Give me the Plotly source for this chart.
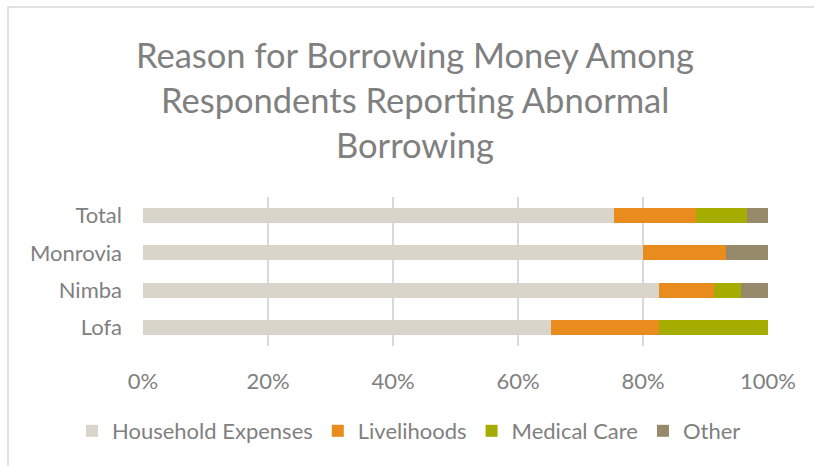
import plotly.graph_objects as go

categories = ["Lofa", "Nimba", "Monrovia", "Total"]
household = [65.2, 82.6, 80.0, 75.4]
livelihoods = [17.4, 8.7, 13.3, 13.0]
medical = [17.4, 4.3, 0.0, 8.2]
other = [0.0, 4.4, 6.7, 3.4]
x_ticks = [0, 20, 40, 60, 80, 100]
x_tick_labels = ["0%", "20%", "40%", "60%", "80%", "100%"]
title_lines = ["Reason for Borrowing Money Among", "Respondents Reporting Abnormal", "Borrowing"]

series = [
    ("Household Expenses", household, "#D9D5CA"),
    ("Livelihoods", livelihoods, "#E88C1E"),
    ("Medical Care", medical, "#A5AE00"),
    ("Other", other, "#968A6A"),
]

FONT = "Lato, 'Open Sans', sans-serif"
GRAY = "#808080"
FS = 22

fig = go.Figure()
for name, vals, col in series:
    fig.add_trace(go.Bar(
        y=categories, x=vals, name=name, orientation="h",
        marker=dict(color=col, line=dict(width=0)),
    ))

W, H = 814, 466
L, R, T, B = 143, 46, 197, 120
pw, ph = W - L - R, H - T - B

def px_x(p):
    return (p - L) / pw

def px_y(p):
    return (H - B - p) / ph

annotations = []
for i, (line, yc) in enumerate(zip(title_lines, [54, 100, 144])):
    annotations.append(dict(
        text=line, x=px_x(415), y=px_y(yc), xref="paper", yref="paper",
        xanchor="center", yanchor="middle", showarrow=False,
        font=dict(family=FONT, size=34.5, color=GRAY),
    ))

fig.update_layout(
    width=W, height=H,
    margin=dict(l=L, r=R, t=T, b=B, autoexpand=False),
    paper_bgcolor="white", plot_bgcolor="white",
    barmode="stack", bargap=0.6,
    font=dict(family=FONT, color=GRAY, size=FS),
    showlegend=True,
    legend=dict(
        orientation="h", x=px_x(72), xanchor="left",
        y=px_y(431), yanchor="middle", traceorder="normal",
        font=dict(family=FONT, size=FS, color=GRAY),
        itemwidth=30, tracegroupgap=0,
    ),
    annotations=annotations,
    shapes=[dict(
        type="rect", xref="paper", yref="paper",
        x0=px_x(8), x1=px_x(840), y0=px_y(490), y1=px_y(7),
        line=dict(color="#D9D9D9", width=1.5), fillcolor="rgba(0,0,0,0)",
        layer="below",
    )],
    xaxis=dict(
        range=[0, 100], tickvals=x_ticks, ticktext=x_tick_labels,
        showgrid=True, gridcolor="#D9D9D9", gridwidth=1.5,
        zeroline=False, showline=False, ticks="",
        ticklabelstandoff=20,
        tickfont=dict(family=FONT, size=FS, color=GRAY),
        fixedrange=True,
    ),
    yaxis=dict(
        categoryorder="array", categoryarray=categories,
        showgrid=False, zeroline=False, showline=False, ticks="",
        ticklabelstandoff=20,
        tickfont=dict(family=FONT, size=FS, color=GRAY),
        fixedrange=True,
    ),
)

fig.write_html(
    "out.html",
    config={"displayModeBar": False},
    post_script="document.body.style.margin='0';document.body.style.overflow='hidden';",
)
